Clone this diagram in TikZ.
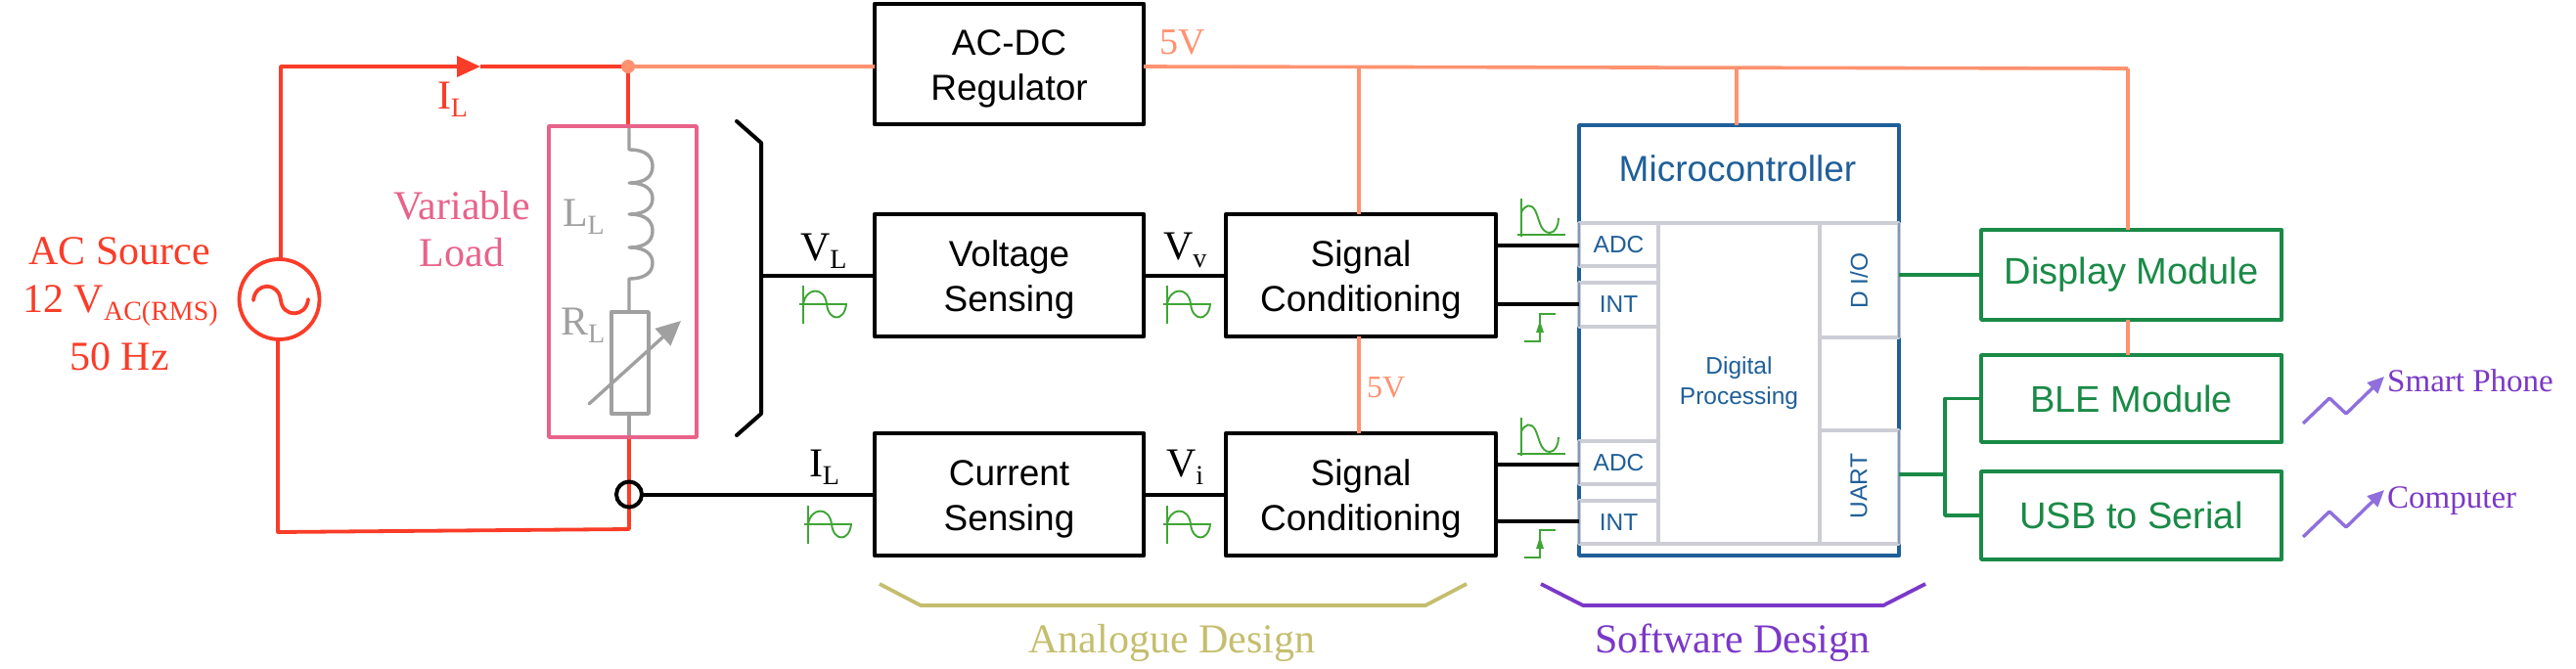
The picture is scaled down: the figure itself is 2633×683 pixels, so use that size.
\documentclass[tikz,border=0pt]{standalone}
\usepackage{fontspec}
\setmainfont{Liberation Serif}
\newfontfamily\hv{Liberation Sans}
\usetikzlibrary{arrows.meta,shapes.geometric}
\definecolor{cred}{HTML}{FA3C28}
\definecolor{cor}{HTML}{FF9270}
\definecolor{cpink}{HTML}{E8638A}
\definecolor{cgray}{HTML}{A0A0A0}
\definecolor{cgreen}{HTML}{1A8A47}
\definecolor{cwave}{HTML}{3FA535}
\definecolor{cblue}{HTML}{1F5F99}
\definecolor{ccell}{HTML}{CDCDD6}
\definecolor{colive}{HTML}{C4BE6E}
\definecolor{cpurple}{HTML}{7B38C8}
\definecolor{csq}{HTML}{8F6FDC}
\newcommand{\sbL}[1]{\raisebox{-8pt}{\fontsize{28}{28}\selectfont #1}}
\tikzset{
  x=1pt,y=-1pt,
  serif/.style={font=\fontsize{42}{48}\selectfont,inner sep=0pt,outer sep=0pt,anchor=base},
  blockbox/.style={draw=black,line width=4.2pt,inner sep=0pt,outer sep=0pt,align=center,line join=round,
    font=\hv\fontsize{37}{46}\selectfont,text height=90pt,text depth=17pt},
  greenbox/.style={draw=cgreen,line width=3.8pt,inner sep=0pt,outer sep=0pt,align=center,line join=round,
    text=cgreen,font=\hv\fontsize{38}{46}\selectfont},
  cell/.style={draw=ccell,line width=3.6pt,inner sep=0pt,outer sep=0pt,line join=round,text=cblue,
    font=\hv\fontsize{24.5}{31}\selectfont,align=center},
  blk/.style={draw=black,line width=4pt},
  redw/.style={draw=cred,line width=3.8pt,line join=round},
  orw/.style={draw=cor,line width=3.6pt},
  grw/.style={draw=cgray,line width=3.4pt,line join=round},
  grnw/.style={draw=cgreen,line width=3.8pt,line join=round},
  sinewave/.pic={
    \draw[cwave,line width=1.9pt] (-4,0)--(45,0) (0,-19)--(0,20);
    \draw[cwave,line width=1.9pt] (0,0) .. controls (3,-18) and (22,-18) .. (24,0) .. controls (26,18) and (42,18) .. (44,0);
  },
  pulsewave/.pic={
    \draw[cwave,line width=1.9pt] (-4,0)--(45,0) (0,-37)--(0,2);
    \draw[cwave,line width=1.9pt] (0,-23) .. controls (4,-31) and (10,-32) .. (14,-25) .. controls (18,-18) and (19,-2) .. (29,-2) .. controls (35,-2) and (38,-10) .. (38,-17);
  },
  stepwave/.pic={
    \draw[cwave,line width=1.9pt] (-16,14)--(0,14)--(0,-14)--(16,-14);
    \fill[cwave] (0,-7)--(4,5)--(-4,5)--cycle;
  },
  squig/.style={draw=csq,line width=3.4pt,line join=round,-{Triangle[length=17pt,width=15pt]}},
}
\begin{document}
\begin{tikzpicture}
\useasboundingbox (0,0) rectangle (2633,683);
% named points
\coordinate (tl) at (287,68);
\coordinate (tip) at (491,68);
\coordinate (dot) at (642,68);
\coordinate (bl) at (284,544);
\coordinate (br) at (643,541);
\coordinate (tr5) at (2175,70);
\coordinate (t1) at (1389,69);
\coordinate (t2) at (1775,69);
% blocks
\node[blockbox,minimum width=275pt,minimum height=123pt] (reg) at (1031.5,65.5) {AC-DC\\Regulator};
\node[blockbox,minimum width=275pt,minimum height=125pt] (vs) at (1031.5,281.5) {Voltage\\Sensing};
\node[blockbox,minimum width=276pt,minimum height=125pt] (sc1) at (1391,281.5) {Signal\\Conditioning};
\node[blockbox,minimum width=275pt,minimum height=125pt] (cs) at (1031.5,505.5) {Current\\Sensing};
\node[blockbox,minimum width=276pt,minimum height=125pt] (sc2) at (1391,505.5) {Signal\\Conditioning};
\node[greenbox,minimum width=307pt,minimum height=92pt] (disp) at (2178.5,281) {Display Module};
\node[greenbox,minimum width=307pt,minimum height=89pt] (ble) at (2178.5,407.5) {BLE Module};
\node[greenbox,minimum width=307pt,minimum height=90pt] (usb) at (2178.5,527) {USB to Serial};
\node[draw=cblue,line width=3.8pt,inner sep=0pt,outer sep=0pt,line join=round,minimum width=327pt,minimum height=440pt] (mcu) at (1777.5,348) {};
\node[text=cblue,font=\hv\fontsize{37}{44}\selectfont,inner sep=0pt,anchor=base] (mcut) at (1776,185) {Microcontroller};
% orange supply
\draw[orw] (dot) -- (reg.west |- dot);
\draw[orw] (reg.east |- dot) -- (tr5);
\draw[orw] (t1) -- (sc1.north -| t1);
\draw[orw] (sc1.south -| t1) -- (sc2.north -| t1);
\draw[orw] (t2) -- (mcu.north -| t2);
\draw[orw] (tr5) -- (disp.north -| tr5);
\draw[orw] (disp.south -| tr5) -- (ble.north -| tr5);
% source
\node[draw=cred,line width=3.8pt,circle,minimum size=82pt,inner sep=0pt,outer sep=0pt] (ac) at (285.5,306) {};
\draw[cred,line width=3.8pt,line cap=round] (259,307) .. controls (261,288) and (285,288) .. (287,307) .. controls (289,325) and (313,325) .. (315,306);
\draw[redw,-{Triangle[length=24pt,width=21pt]}] (ac.north -| tl) -- (tl) -- (tip);
\draw[redw] (tip) -- (dot) -- (dot |- 0,130);
\fill[cor] (dot) circle (7pt);
\draw[redw] (ac.south -| bl) -- (bl) -- (br) -- (br |- 0,447);
% load
\coordinate (lt) at (643,130);
\coordinate (l0) at (643,153);
\coordinate (l1) at (643,187);
\coordinate (l2) at (643,219);
\coordinate (l3) at (643,253);
\coordinate (l4) at (643,285);
\node[draw=cgray,line width=3.4pt,inner sep=0pt,outer sep=0pt,line join=round,fill=white,minimum width=38pt,minimum height=104pt] (res) at (644,371) {};
\draw[grw] (lt) -- (l0)
  .. controls (660,153) and (667,160) .. (667,170) .. controls (667,180) and (660,187) .. (l1)
  .. controls (660,187) and (667,194) .. (667,203) .. controls (667,212) and (660,219) .. (l2)
  .. controls (660,219) and (667,226) .. (667,236) .. controls (667,246) and (660,253) .. (l3)
  .. controls (660,253) and (667,260) .. (667,269) .. controls (667,278) and (660,285) .. (l4)
  -- (res.north -| l4);
\draw[grw] (res.south -| l4) -- (l4 |- 0,447);
\coordinate (ra) at (602,413);
\coordinate (rb) at (696,328);
\draw[grw,line cap=round,-{Triangle[length=25pt,width=23pt]}] (ra) -- (rb);
\node[draw=cpink,line width=3.6pt,inner sep=0pt,outer sep=0pt,line join=round,minimum width=151pt,minimum height=318pt] (load) at (636.5,288) {};
\node[serif,text=cgray,anchor=base west] (ll) at (575,231) {L\sbL{L}};
\node[serif,text=cgray,anchor=base west] (rl) at (573,342) {R\sbL{L}};
\node[serif,text=cpink] (var) at (472,224) {Variable};
\node[serif,text=cpink] (lod) at (472,272) {Load};
\node[serif,text=cred] (acs) at (122,270) {AC Source};
\node[serif,text=cred] (acv) at (123,319) {12 V\sbL{AC(RMS)}};
\node[serif,text=cred] (acf) at (122,378) {50 Hz};
\node[serif,text=cred,anchor=base west] (il0) at (447,111) {I\sbL{L}};
% bracket and signal lines
\coordinate (b1) at (753,124);
\coordinate (b2) at (778,146);
\coordinate (b3) at (778,423);
\coordinate (b4) at (753,445);
\draw[blk,line cap=round,line join=round] (b1) -- (b2) -- (b3) -- (b4);
\draw[blk] (b2 |- vs.west) -- (vs.west);
\node[draw=black,line width=4pt,circle,minimum size=26pt,inner sep=0pt,outer sep=0pt] (jn) at (643,505.5) {};
\draw[blk] (jn.east) -- (cs.west);
\draw[blk] (vs.east) -- (sc1.west);
\draw[blk] (cs.east) -- (sc2.west);
\node[serif,anchor=base west] (vl) at (818,266) {V\sbL{L}};
\node[serif,anchor=base west] (il) at (827,487) {I\sbL{L}};
\node[serif,anchor=base west] (vv) at (1189,265) {V\sbL{v}};
\node[serif,anchor=base west] (vi) at (1192,487) {V\sbL{i}};
\node[serif,text=cor,anchor=base west,font=\fontsize{38}{44}\selectfont] (v5a) at (1185,55) {5V};
\node[serif,text=cor,anchor=base west,font=\fontsize{32}{38}\selectfont] (v5b) at (1397,406) {5V};
\pic at (821,311) {sinewave};
\pic at (826,536) {sinewave};
\pic at (1193,311) {sinewave};
\pic at (1193,536) {sinewave};
\pic at (1555,240) {pulsewave};
\pic at (1555,464) {pulsewave};
\pic at (1574,335) {stepwave};
\pic at (1574,556) {stepwave};
% microcontroller cells
\node[cell,minimum width=81pt,minimum height=44pt] (adc1) at (1654.5,250) {ADC};
\node[cell,minimum width=81pt,minimum height=45pt] (int1) at (1654.5,311.5) {INT};
\node[cell,minimum width=81pt,minimum height=44pt] (adc2) at (1654.5,473) {ADC};
\node[cell,minimum width=81pt,minimum height=44pt] (int2) at (1654.5,534) {INT};
\node[cell,minimum width=165pt,minimum height=328pt] (dp) at (1777.5,392) {Digital\\Processing};
\node[cell,minimum width=81pt,minimum height=117pt] (dio) at (1900.5,286.5) {};
\node[cell,minimum width=81pt,minimum height=116pt] (uart) at (1900.5,498) {};
\node[cell,draw=none,rotate=90,inner sep=0pt] (diot) at (1900,287) {D I/O};
\node[cell,draw=none,rotate=90,inner sep=0pt] (uartt) at (1900,497) {UART};
\draw[cblue,opacity=.45,line width=1.4pt] (adc1.north west) -- (adc1.south west) (int1.north west) -- (int1.south west) (adc2.north west) -- (adc2.south west) (int2.north west) -- (int2.south west) (dio.north east) -- (dio.south east) (uart.north east) -- (uart.south east);
\draw[blk] (sc1.east |- 0,251) -- (adc1.west |- 0,251);
\draw[blk] (sc1.east |- 0,311) -- (int1.west |- 0,311);
\draw[blk] (sc2.east |- 0,475) -- (adc2.west |- 0,475);
\draw[blk] (sc2.east |- 0,533) -- (int2.west |- 0,533);
% digital side
\coordinate (jg) at (1988,407.5);
\draw[grnw] (dio.east |- disp.west) -- (disp.west);
\draw[grnw] (uart.east |- 0,485) -- (jg |- 0,485);
\draw[grnw] (ble.west) -- (jg) -- (jg |- usb.west) -- (usb.west);
% squiggles
\coordinate (s1a) at (2354,433);
\coordinate (s1b) at (2381,407);
\coordinate (s1c) at (2398,423);
\coordinate (s1d) at (2437,385);
\draw[squig] (s1a) -- (s1b) -- (s1c) -- (s1d);
\coordinate (s2a) at (2354,549);
\coordinate (s2b) at (2381,523);
\coordinate (s2c) at (2398,539);
\coordinate (s2d) at (2437,501);
\draw[squig] (s2a) -- (s2b) -- (s2c) -- (s2d);
\node[anchor=base west,inner sep=0pt,text=cpurple,font=\fontsize{33}{38}\selectfont] (phone) at (2440,400) {Smart Phone};
\node[anchor=base west,inner sep=0pt,text=cpurple,font=\fontsize{33}{38}\selectfont] (comp) at (2440,519) {Computer};
% design brackets
\coordinate (a1) at (899,597);
\coordinate (a2) at (941,619);
\coordinate (a3) at (1457,619);
\coordinate (a4) at (1499,597);
\draw[colive,line width=3.8pt,line join=round] (a1) -- (a2) -- (a3) -- (a4);
\coordinate (w1) at (1575,597);
\coordinate (w2) at (1618,619);
\coordinate (w3) at (1925,619);
\coordinate (w4) at (1968,597);
\draw[cpurple,line width=3.8pt,line join=round] (w1) -- (w2) -- (w3) -- (w4);
\node[serif,text=colive] (ad) at (1198,667) {Analogue Design};
\node[serif,text=cpurple] (sd) at (1771,667) {Software Design};
\end{tikzpicture}
\end{document}
